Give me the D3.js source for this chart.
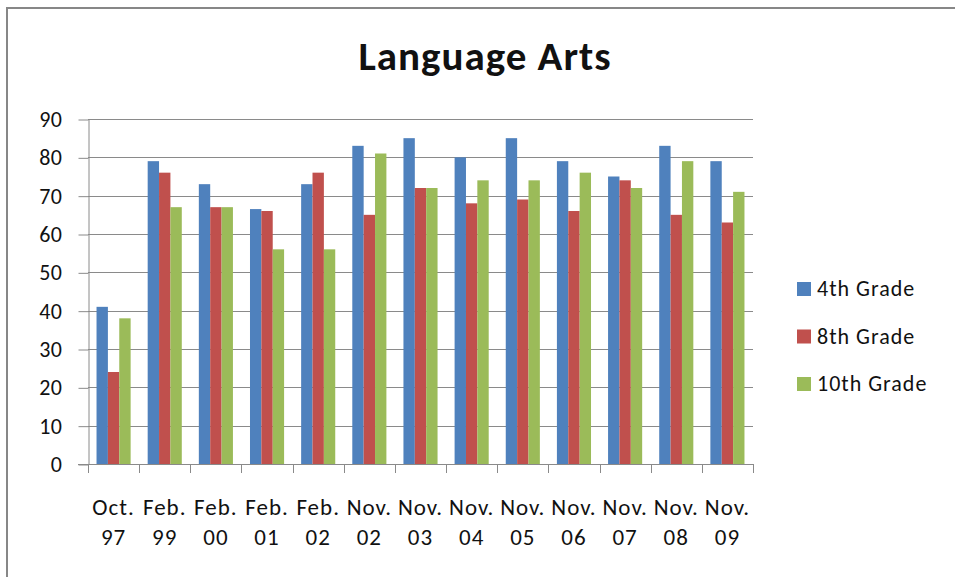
<!DOCTYPE html>
<html>
  <head>
    <meta charset="utf-8" />
    <title>Language Arts</title>
    <style>
      body {
        margin: 0;
        background-color: #fff;
      }

      #chart {
        width: 955px;
        height: 577px;
      }

      text {
        font-family: Calibri, Carlito, Lato, sans-serif;
        fill: #111;
      }
    </style>
  </head>

  <body>
    <div id="chart"></div>

    <script src="https://cdnjs.cloudflare.com/ajax/libs/d3/7.8.5/d3.min.js"></script>
    <script>
      // chart data
      var categories = ["Oct. 97", "Feb. 99", "Feb. 00", "Feb. 01", "Feb. 02", "Nov. 02", "Nov. 03",
        "Nov. 04", "Nov. 05", "Nov. 06", "Nov. 07", "Nov. 08", "Nov. 09"];
      var seriesNames = ["4th Grade", "8th Grade", "10th Grade"];
      var grade4 = [41, 79, 73, 66.5, 73, 83, 85, 80, 85, 79, 75, 83, 79];
      var grade8 = [24, 76, 67, 66, 76, 65, 72, 68, 69, 66, 74, 65, 63];
      var grade10 = [38, 67, 67, 56, 56, 81, 72, 74, 74, 76, 72, 79, 71];
      var yTicks = [0, 10, 20, 30, 40, 50, 60, 70, 80, 90];
      var colors = ["#4f81bd", "#c0504d", "#9bbb59"];

      var seriesValues = [grade4, grade8, grade10];

      var width = 955;
      var height = 577;
      var plot = { left: 88, right: 753, top: 119, bottom: 464 };

      var svg = d3.select("#chart").append("svg")
        .attr("width", width)
        .attr("height", height);

      // outer frame (only left and top edges are visible)
      svg.append("path")
        .attr("d", "M7,590V8H970")
        .attr("fill", "none")
        .attr("stroke", "#878787")
        .attr("stroke-width", 2);

      // scales
      var x0 = d3.scaleBand()
        .domain(categories)
        .range([plot.left, plot.right])
        .paddingInner(1 / 3)
        .paddingOuter(1 / 6);

      var x1 = d3.scaleBand()
        .domain(seriesNames)
        .range([0, x0.bandwidth()]);

      var y = d3.scaleLinear()
        .domain([0, 90])
        .range([plot.bottom, plot.top]);

      var color = d3.scaleOrdinal().domain(seriesNames).range(colors);

      // gridlines
      svg.append("g")
        .selectAll("line")
        .data(yTicks.filter(d => d > 0))
        .enter().append("line")
        .attr("x1", plot.left)
        .attr("x2", plot.right)
        .attr("y1", d => Math.round(y(d)) + 0.5)
        .attr("y2", d => Math.round(y(d)) + 0.5)
        .attr("stroke", "#8a8a8a")
        .attr("stroke-width", 1);

      // y axis
      var yAxis = svg.append("g")
        .attr("transform", "translate(" + (plot.left + 0.5) + ",0.5)")
        .call(d3.axisLeft(y).tickValues(yTicks).tickSize(10).tickSizeOuter(0).tickPadding(16));

      yAxis.select(".domain").attr("stroke", "#8a8a8a");
      yAxis.selectAll(".tick line").attr("stroke", "#8a8a8a");
      yAxis.selectAll(".tick text")
        .style("font-size", "22px")
        .style("letter-spacing", "0.5px")
        .attr("fill", "#111");

      // bars
      var groups = svg.append("g")
        .selectAll("g")
        .data(categories)
        .enter().append("g")
        .attr("transform", d => "translate(" + x0(d) + ",0)");

      groups.selectAll("rect")
        .data((d, i) => seriesNames.map((s, j) => ({ series: s, value: seriesValues[j][i] })))
        .enter().append("rect")
        .attr("x", d => x1(d.series))
        .attr("width", x1.bandwidth())
        .attr("y", d => y(d.value))
        .attr("height", d => y(0) - y(d.value))
        .attr("fill", d => color(d.series));

      // x axis line and ticks between categories
      var boundaries = d3.range(categories.length + 1).map(i => plot.left + i * x0.step());

      svg.append("line")
        .attr("x1", plot.left - 10)
        .attr("x2", plot.right)
        .attr("y1", plot.bottom + 0.5)
        .attr("y2", plot.bottom + 0.5)
        .attr("stroke", "#8a8a8a");

      svg.append("g")
        .selectAll("line")
        .data(boundaries)
        .enter().append("line")
        .attr("x1", d => Math.round(d) + 0.5)
        .attr("x2", d => Math.round(d) + 0.5)
        .attr("y1", plot.bottom)
        .attr("y2", plot.bottom + 9)
        .attr("stroke", "#8a8a8a");

      // category labels on two lines
      var labels = svg.append("g")
        .selectAll("text")
        .data(categories)
        .enter().append("text")
        .attr("text-anchor", "middle")
        .style("font-size", "23px")
        .style("letter-spacing", "1px");

      labels.each(function(d) {
        var parts = d.split(" ");
        var cx = x0(d) + x0.bandwidth() / 2;
        var t = d3.select(this);
        t.append("tspan").attr("x", cx).attr("y", 515).text(parts[0]);
        t.append("tspan").attr("x", cx).attr("y", 545).text(parts[1]);
      });

      // title
      svg.append("text")
        .attr("x", 485)
        .attr("y", 70)
        .attr("text-anchor", "middle")
        .style("font-size", "41px")
        .style("font-weight", "bold")
        .style("letter-spacing", "1px")
        .attr("fill", "#000")
        .text("Language Arts");

      // legend
      var legend = svg.append("g")
        .selectAll("g")
        .data(seriesNames)
        .enter().append("g")
        .attr("transform", (d, i) => "translate(797," + (282 + i * 47.5) + ")");

      legend.append("rect")
        .attr("width", 14)
        .attr("height", 14)
        .attr("fill", d => color(d));

      legend.append("text")
        .attr("x", 20)
        .attr("y", 14)
        .style("font-size", "22px")
        .style("letter-spacing", "1px")
        .text(d => d);
    </script>
  </body>
</html>
